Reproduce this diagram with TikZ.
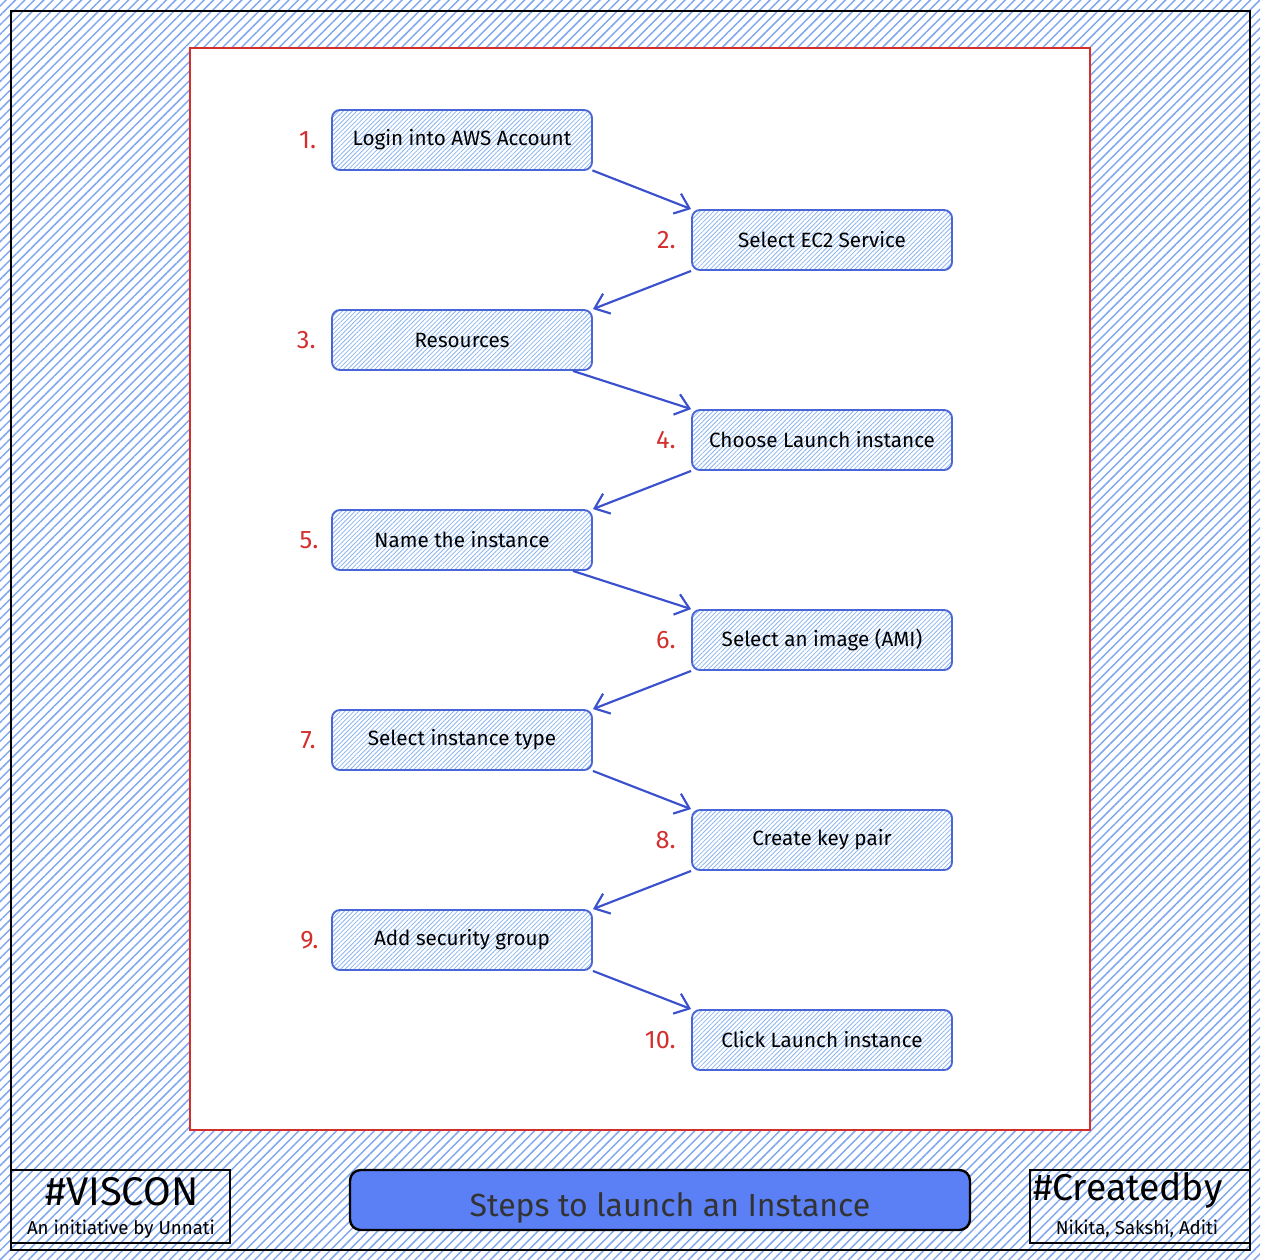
\documentclass[tikz,border=0pt]{standalone}
\usepackage{fontspec}
\setsansfont{Fira Sans}
\usetikzlibrary{positioning,patterns.meta,arrows.meta}
\definecolor{hatchblue}{HTML}{7FA6EE}
\definecolor{boxhatch}{HTML}{8CB6F0}
\definecolor{boxblue}{HTML}{4A66D6}
\definecolor{arrowblue}{HTML}{3A50CC}
\definecolor{numred}{HTML}{D32F2F}
\definecolor{titleblue}{HTML}{5B80F5}
\tikzset{
    stepbox/.style={draw=boxblue, line width=1.4pt, rounded corners=6pt,
        minimum width=195pt, minimum height=45pt, inner sep=0pt,
        pattern={Lines[angle=45,distance=2.4pt,line width=0.6pt]}, pattern color=boxhatch,
        font=\sffamily\fontsize{15.5}{17}\selectfont},
    numlabel/.style={text=numred, font=\sffamily\fontsize{19}{21}\selectfont},
    flow/.style={-{Straight Barb[length=10pt,width=16pt]}, draw=arrowblue, line width=1.6pt},
    footbox/.style={draw=black, line width=0.8pt},
}

\begin{document}
\begin{tikzpicture}[x=0.75pt,y=0.75pt,yscale=-1,xscale=1]
\useasboundingbox (0,0) rectangle (1260,1260);
%Background hatch
\fill[pattern={Lines[angle=45,distance=5pt,line width=1.1pt]}, pattern color=hatchblue] (0,0) rectangle (1260,1260);
\draw[line width=1.2pt] (11,11) rectangle (1250,1250);
%Red frame
\draw[draw=numred, fill=white, line width=1.2pt] (190,48) rectangle (1090,1130);
%Steps
\node[stepbox] (login) at (462,140) {Login into AWS Account};
\node[stepbox] (ectwo) at (822,240) {Select EC2 Service};
\node[stepbox] (res) at (462,340) {Resources};
\node[stepbox] (choose) at (822,440) {Choose Launch instance};
\node[stepbox] (name) at (462,540) {Name the instance};
\node[stepbox] (ami) at (822,640) {Select an image (AMI)};
\node[stepbox] (itype) at (462,740) {Select instance type};
\node[stepbox] (keypair) at (822,840) {Create key pair};
\node[stepbox] (secgrp) at (462,940) {Add security group};
\node[stepbox] (click) at (822,1040) {Click Launch instance};
%Numbers
\node[numlabel, left=8pt of login] (n1) {1.};
\node[numlabel, left=8pt of ectwo] (n2) {2.};
\node[numlabel, left=8pt of res] (n3) {3.};
\node[numlabel, left=8pt of choose] (n4) {4.};
\node[numlabel, left=6pt of name] (n5) {5.};
\node[numlabel, left=8pt of ami] (n6) {6.};
\node[numlabel, left=8pt of itype] (n7) {7.};
\node[numlabel, left=8pt of keypair] (n8) {8.};
\node[numlabel, left=6pt of secgrp] (n9) {9.};
\node[numlabel, left=8pt of click] (n10) {10.};
%Arrows
\draw[flow] (login.south east) -- (ectwo.north west);
\draw[flow] (ectwo.south west) -- (res.north east);
\draw[flow] ([xshift=-15pt]res.south east) -- (choose.north west);
\draw[flow] (choose.south west) -- (name.north east);
\draw[flow] ([xshift=-15pt]name.south east) -- (ami.north west);
\draw[flow] (ami.south west) -- (itype.north east);
\draw[flow] (itype.south east) -- (keypair.north west);
\draw[flow] (keypair.south west) -- (secgrp.north east);
\draw[flow] (secgrp.south east) -- (click.north west);
%Footer
\draw[line width=1.2pt] (11,1250) -- (1250,1250);
\draw[footbox] (11,1170) rectangle (230,1243);
\node[font=\sffamily\fontsize{30}{32}\selectfont] (viscon) at (122,1192) {\#VISCON};
\node[font=\sffamily\fontsize{14}{16}\selectfont] (unnati) at (121,1229) {An initiative by Unnati};
\draw[draw=black, line width=1.8pt, fill=titleblue, rounded corners=8pt] (350,1170) rectangle (970,1230);
\node[font=\sffamily\fontsize{24}{26}\selectfont, text=black!80] (title) at (670,1208) {Steps to launch an Instance};
\draw[footbox] (1030,1170) rectangle (1250,1243);
\node[font=\sffamily\fontsize{28}{30}\selectfont] (createdby) at (1128,1190) {\#Createdby};
\node[font=\sffamily\fontsize{14}{16}\selectfont] (names) at (1137,1229) {Nikita, Sakshi, Aditi};
\end{tikzpicture}
\end{document}
